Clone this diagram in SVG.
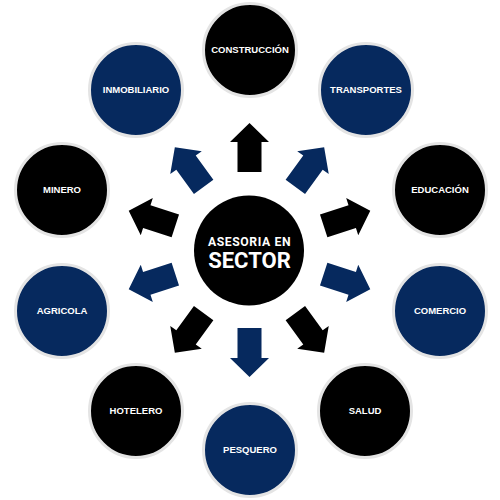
<svg xmlns="http://www.w3.org/2000/svg" width="500" height="500" viewBox="0 0 500 500">
<style>
.blk{fill:#000000}
.nav{fill:#06295e}
.ring{stroke:#e4e4e4;stroke-width:3}
.lbl{font-family:"Liberation Sans",Arial,sans-serif;font-weight:bold;font-size:9.5px;fill:#ffffff;text-anchor:middle}
.ctr{font-family:Roboto,"Liberation Sans",sans-serif;font-weight:bold;fill:#ffffff;text-anchor:middle}
</style>
<defs>
<path id="arr" d="M -12,-78 L 12,-78 L 12,-108 L 19.5,-108 L 0,-127 L -19.5,-108 L -12,-108 Z"/>
</defs>
<rect width="500" height="500" fill="#ffffff"/>
<g id="connectors" transform="translate(249.5,250)">
<use href="#arr" class="blk" transform="rotate(0)"/>
<use href="#arr" class="nav" transform="rotate(36)"/>
<use href="#arr" class="blk" transform="rotate(72)"/>
<use href="#arr" class="nav" transform="rotate(108)"/>
<use href="#arr" class="blk" transform="rotate(144)"/>
<use href="#arr" class="nav" transform="rotate(180)"/>
<use href="#arr" class="blk" transform="rotate(216)"/>
<use href="#arr" class="nav" transform="rotate(252)"/>
<use href="#arr" class="blk" transform="rotate(288)"/>
<use href="#arr" class="nav" transform="rotate(324)"/>
</g>
<g id="center">
<circle cx="249" cy="250.5" r="55" class="blk"/>
<text x="249.5" y="245.7" class="ctr" font-size="12.2" letter-spacing="0.6">ASESORIA EN</text>
<text x="249.5" y="268.3" class="ctr" font-size="22">SECTOR</text>
</g>
<g id="construccion"><circle cx="250" cy="50" r="46.5" class="blk ring"/><text x="250" y="53.4" class="lbl">CONSTRUCCIÓN</text></g>
<g id="transportes"><circle cx="366" cy="90" r="46.5" class="nav ring"/><text x="366" y="93.4" class="lbl">TRANSPORTES</text></g>
<g id="educacion"><circle cx="440" cy="190" r="46.5" class="blk ring"/><text x="440" y="193.4" class="lbl">EDUCACIÓN</text></g>
<g id="comercio"><circle cx="440" cy="311" r="46.5" class="nav ring"/><text x="440" y="314.4" class="lbl">COMERCIO</text></g>
<g id="salud"><circle cx="365" cy="411" r="46.5" class="blk ring"/><text x="365" y="414.4" class="lbl">SALUD</text></g>
<g id="pesquero"><circle cx="250" cy="450" r="46.5" class="nav ring"/><text x="250" y="453.4" class="lbl">PESQUERO</text></g>
<g id="hotelero"><circle cx="136" cy="411" r="46.5" class="blk ring"/><text x="136" y="414.4" class="lbl">HOTELERO</text></g>
<g id="agricola"><circle cx="62" cy="311" r="46.5" class="nav ring"/><text x="62" y="314.4" class="lbl">AGRICOLA</text></g>
<g id="minero"><circle cx="62" cy="190" r="46.5" class="blk ring"/><text x="62" y="193.4" class="lbl">MINERO</text></g>
<g id="inmobiliario"><circle cx="136" cy="90" r="46.5" class="nav ring"/><text x="136" y="93.4" class="lbl">INMOBILIARIO</text></g>
</svg>
